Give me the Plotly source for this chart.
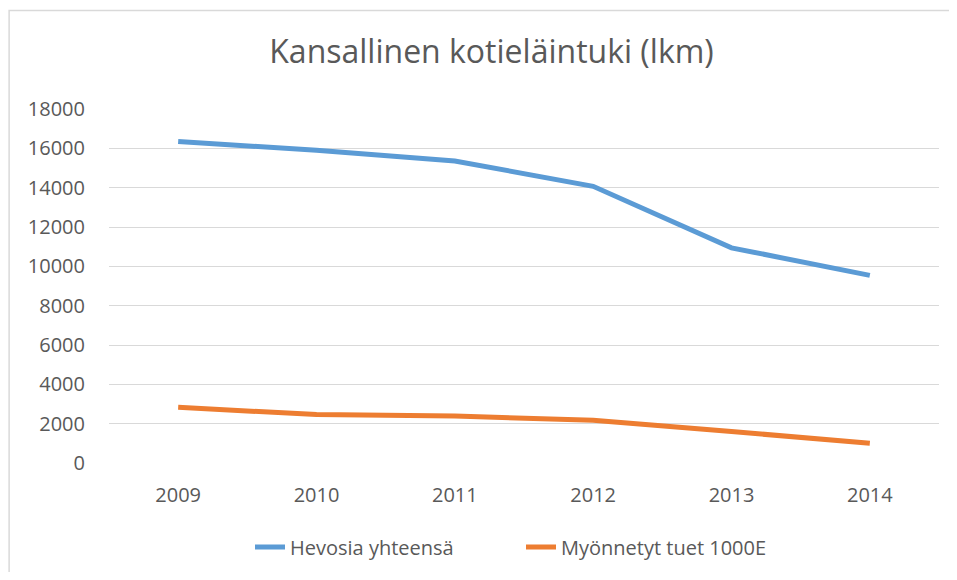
import plotly.graph_objects as go

years = ["2009", "2010", "2011", "2012", "2013", "2014"]
hevosia = [16350, 15900, 15360, 14070, 10940, 9540]
tuet = [2830, 2460, 2390, 2170, 1600, 1000]
y_ticks = [0, 2000, 4000, 6000, 8000, 10000, 12000, 14000, 16000, 18000]
y_labels = [str(v) for v in y_ticks]

# page body has an 8px margin, so figure coords = reference coords - 8
W, H = 941, 564
L, T = 100.5, 100.7
R = W - 931.5
B = H - 455
pw, ph = W - L - R, H - T - B

fig = go.Figure()
fig.add_trace(go.Scatter(x=years, y=hevosia, mode="lines", name="Hevosia yhteensä",
                         line=dict(color="#5B9BD5", width=5)))
fig.add_trace(go.Scatter(x=years, y=tuet, mode="lines", name="Myönnetyt tuet 1000E",
                         line=dict(color="#ED7D31", width=5)))

font = "Open Sans, Liberation Sans, sans-serif"
fig.update_layout(
    width=W, height=H,
    margin=dict(l=L, r=R, t=T, b=B),
    paper_bgcolor="white", plot_bgcolor="white",
    font=dict(family=font, color="#595959", size=20),
    title=dict(text="Kansallinen kotieläintuki (lkm)", x=483.5 / W, xanchor="center",
               y=1 - 44 / H, yanchor="middle", yref="container",
               font=dict(size=32, color="#595959", family=font)),
    xaxis=dict(type="category", range=[-0.5, 5.5], showgrid=False, showline=False,
               ticks="", ticklabelstandoff=18, tickfont=dict(size=20), zeroline=False),
    yaxis=dict(range=[0, 18000], tickvals=y_ticks, ticktext=y_labels, showgrid=True,
               gridcolor="#D9D9D9", gridwidth=1, zeroline=False, showline=False, ticks="",
               ticklabelstandoff=23, tickfont=dict(size=20)),
    showlegend=True,
    legend=dict(orientation="h", x=513 / W, xref="container", xanchor="center",
                y=(H - 539) / H, yref="container", yanchor="middle",
                font=dict(size=20), entrywidth=226, entrywidthmode="pixels",
                bgcolor="rgba(0,0,0,0)"),
    shapes=[dict(type="rect", xref="paper", yref="paper",
                 x0=(0.5 - L) / pw, x1=(980 - L) / pw,
                 y0=-1.0, y1=(455 - 2) / ph,
                 line=dict(color="#D9D9D9", width=1.5), fillcolor="rgba(0,0,0,0)",
                 layer="below")],
)

fig.write_html("out.html")
